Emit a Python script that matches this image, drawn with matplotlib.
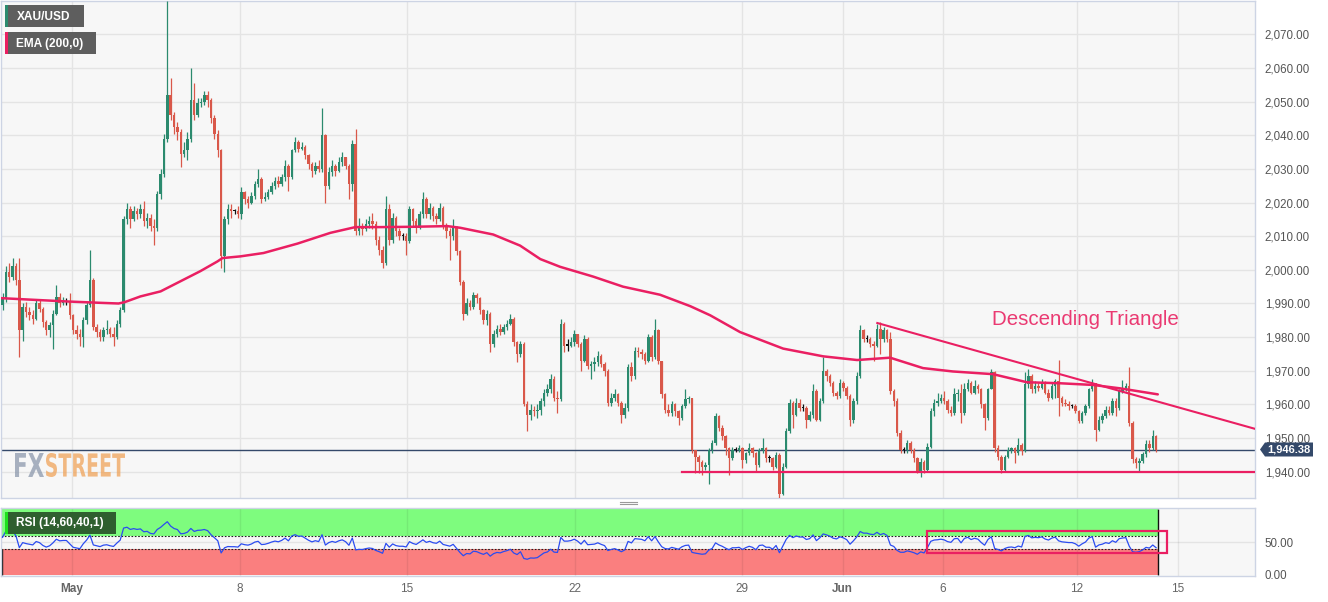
import numpy as np
import matplotlib
matplotlib.use("Agg")
import matplotlib.pyplot as plt
from matplotlib.patches import Rectangle, Polygon, PathPatch
from matplotlib.textpath import TextPath
from matplotlib.font_manager import FontProperties
from matplotlib.transforms import Affine2D

plt.rcParams['font.family'] = ['Liberation Sans', 'DejaVu Sans']

# ---------------- data (XAU/USD candles) ----------------
first_open = 1989.5
closes = [
 1991.5, 1999.5, 1998, 2001, 1997, 1982, 1989, 1987.5, 1986.5, 1985.5,
 1990, 1988.5, 1984.5, 1982, 1983.5, 1987, 1992, 1990, 1990.5, 1990.5,
 1986.5, 1982, 1981, 1980, 1985, 1989.5, 1997, 1983, 1981.5, 1980,
 1982, 1982.5, 1981, 1980, 1984, 1988, 2015, 2018, 2015, 2017.5,
 2016.5, 2018, 2014.5, 2015.5, 2013, 2012.5, 2022.5, 2028.5, 2039, 2052,
 2046, 2042.5, 2041, 2034.5, 2035.5, 2039, 2050.5, 2046, 2049.5, 2050,
 2052, 2050.5, 2045, 2040.5, 2035.5, 2004, 2015, 2018, 2017.5, 2017.5,
 2016.5, 2023, 2021, 2020, 2022, 2025.5, 2027, 2021, 2021.5, 2023,
 2025, 2026.5, 2025.5, 2027.5, 2031, 2027.5, 2035.5, 2038, 2036, 2036.5,
 2034, 2031.5, 2029.5, 2031, 2030, 2040, 2025, 2029, 2031, 2029.5,
 2032, 2033.5, 2031, 2025.5, 2037.5, 2011.5, 2012.5, 2012, 2013.5, 2014.5,
 2013.5, 2009, 2006, 2002, 2018, 2009, 2015.5, 2011.5, 2010, 2010,
 2008.5, 2018, 2014.5, 2012.5, 2016.5, 2021, 2016.5, 2018.5, 2016, 2015,
 2018.5, 2013, 2011.5, 2010, 2012.5, 2005.5, 1996.5, 1987, 1990, 1989,
 1992.5, 1991.5, 1988, 1985, 1987, 1978, 1981, 1982.5, 1981.5, 1983,
 1984, 1985.5, 1978.5, 1975, 1978, 1960, 1957, 1958.5, 1958, 1958.5,
 1961, 1963.5, 1964.5, 1967.5, 1962, 1961.5, 1984, 1977.5, 1977.5, 1978.5,
 1981, 1978, 1973, 1979.5, 1971.5, 1972, 1972.5, 1974.5, 1972, 1970,
 1960.5, 1962, 1963, 1960.5, 1957, 1959, 1971, 1968.5, 1976, 1975.5,
 1975, 1973, 1980, 1974, 1982, 1973, 1963, 1958.5, 1957.5, 1960,
 1958, 1956, 1959.5, 1961.5, 1962, 1946.5, 1944.5, 1943, 1941.5, 1942,
 1946.5, 1948.5, 1956.5, 1953, 1950.5, 1947, 1944, 1946.5, 1946.5, 1947,
 1943.5, 1945.5, 1947, 1945.5, 1942, 1946.5, 1947, 1944, 1944, 1941.5,
 1945, 1933.5, 1941.5, 1952, 1960.5, 1957, 1960.5, 1959, 1959, 1955.5,
 1957, 1964, 1955.5, 1961, 1970, 1968.5, 1966.5, 1963.5, 1962.5, 1966.5,
 1965, 1962.5, 1955.5, 1961, 1968.5, 1982, 1979.5, 1979.5, 1978, 1977.5,
 1982.5, 1979.5, 1982, 1979.5, 1964, 1961, 1951.5, 1946.5, 1946.5, 1948.5,
 1946.5, 1944, 1940, 1943, 1940.5, 1947.5, 1958, 1960.5, 1961, 1962,
 1961, 1958.5, 1957.5, 1963, 1963.5, 1957.5, 1964.5, 1966.5, 1963.5, 1965.5,
 1964.5, 1960, 1956, 1964.5, 1969.5, 1947, 1944.5, 1940.5, 1944.5, 1946.5,
 1947, 1945.5, 1948, 1946.2, 1966, 1968.5, 1964.5, 1965.5, 1965, 1966.7,
 1963.5, 1962, 1965.5, 1967, 1962, 1960.5, 1960, 1959.5, 1959.5, 1958,
 1955, 1957.5, 1959.5, 1964.5, 1966.5, 1952.5, 1955.5, 1956.5, 1958.5, 1957.5,
 1961, 1959, 1964, 1965, 1965.5, 1954.5, 1943.7, 1942.5, 1943.2, 1945.2,
 1948.2, 1947, 1950.7, 1946.38]
highs = [
 1993, 2001, 2002, 2003.5, 2002, 2003.5, 1990, 1990.5, 1989, 1988,
 1991, 1991, 1989, 1985, 1984.5, 1988, 1995.5, 1993, 1992, 1991.5,
 1993, 1987, 1983.5, 1982.5, 1986, 1990.5, 2006, 1997.5, 1984, 1982.5,
 1983, 1985, 1983, 1983, 1985, 1989, 2016, 2020, 2019, 2019,
 2018.5, 2019.5, 2020.5, 2017, 2016.5, 2015, 2023.5, 2030, 2040.5, 2080,
 2057, 2047, 2044, 2042, 2038, 2041, 2060, 2055.5, 2051, 2051,
 2053, 2053, 2051, 2046, 2041.5, 2036, 2016, 2019.5, 2019.5, 2018,
 2019, 2024.5, 2023.5, 2022, 2023, 2026.5, 2030, 2027.5, 2023, 2024,
 2026, 2027.5, 2028, 2028.5, 2032.5, 2031.5, 2036, 2039.5, 2038.5, 2038,
 2037, 2034.5, 2032, 2032, 2032.5, 2048, 2040.5, 2030.5, 2032.5, 2031.5,
 2033.5, 2035, 2033.5, 2031.5, 2038.5, 2042, 2015.5, 2014, 2015, 2016,
 2017, 2014.5, 2010, 2007, 2022, 2019.5, 2017, 2016, 2012.5, 2011,
 2011, 2019, 2018.5, 2015.5, 2017.5, 2023, 2021.5, 2020, 2019, 2017,
 2020, 2019, 2014, 2012.5, 2015, 2013, 2006, 1997, 1991.5, 1991,
 1993.5, 1993, 1992, 1988.5, 1988, 1987.5, 1982, 1983.5, 1984, 1984,
 1985, 1987, 1986, 1979, 1979, 1978.5, 1961, 1960, 1959.5, 1960,
 1962, 1964.5, 1966, 1969, 1968.5, 1964, 1985.5, 1984.5, 1979.5, 1980,
 1982, 1981, 1978.5, 1980.5, 1980, 1973, 1974, 1976, 1975, 1972.5,
 1970.5, 1963.5, 1964.5, 1963.5, 1961, 1960.5, 1972, 1972.5, 1977, 1977,
 1976.5, 1975.5, 1981, 1980.5, 1985.5, 1982.5, 1973, 1963.5, 1960, 1961,
 1960.5, 1958.5, 1960, 1964.5, 1962.5, 1962, 1946.5, 1945, 1943.5, 1943,
 1947, 1949.5, 1957.5, 1957, 1954, 1951, 1947.5, 1947.5, 1947.5, 1948,
 1947.5, 1946, 1948.5, 1947.5, 1946, 1947, 1950, 1947.5, 1945, 1944.5,
 1946, 1945.5, 1942.5, 1953, 1961.5, 1961, 1962, 1961.5, 1960, 1959.5,
 1958, 1966, 1964.5, 1962, 1974, 1970.5, 1969, 1967, 1964, 1967.5,
 1967, 1965.5, 1963, 1962, 1969.5, 1983.5, 1982.5, 1980.5, 1980, 1979,
 1984, 1984.5, 1983, 1982.5, 1981.5, 1964.5, 1962, 1952.5, 1947.5, 1949.5,
 1949, 1947, 1944.5, 1944, 1943.5, 1948.5, 1959, 1961.5, 1963.5, 1963,
 1964, 1961.5, 1959.5, 1965, 1964.5, 1966, 1966.5, 1967.5, 1967, 1967.2,
 1966, 1965, 1960.5, 1965, 1970.5, 1970, 1948, 1945, 1945, 1947.5,
 1947.5, 1947.5, 1950, 1948.5, 1969.5, 1970.5, 1969, 1967, 1966.5, 1967.5,
 1967, 1964.5, 1966.5, 1967.5, 1973.3, 1962.5, 1961.5, 1961, 1960, 1960,
 1958.5, 1958, 1960, 1965, 1967.5, 1966.5, 1956.5, 1957.5, 1959.5, 1959.5,
 1962, 1962, 1964.5, 1967.2, 1966.5, 1971.2, 1955, 1944.5, 1944, 1946,
 1949.4, 1949.4, 1952.5, 1951]
lows = [
 1988, 1990.5, 1996.5, 1997, 1995.5, 1974, 1979, 1986, 1985, 1984,
 1985, 1987.5, 1983, 1980.5, 1980, 1976.5, 1986.5, 1989, 1989.5, 1989.5,
 1985.5, 1981, 1979.5, 1977.5, 1977, 1984, 1989, 1982, 1980, 1979,
 1979, 1981, 1980, 1977.5, 1979.5, 1983, 1987.5, 2013.5, 2012.5, 2014.5,
 2015, 2015.5, 2013, 2012.5, 2011.5, 2007.5, 2011.5, 2021, 2027.5, 2038,
 2044.5, 2040.5, 2038.5, 2030.5, 2033.5, 2032.5, 2038, 2044.5, 2045.5, 2048.5,
 2049, 2048.5, 2043.5, 2039, 2033.5, 2000.5, 1999.5, 2013.5, 2015.5, 2016.5,
 2015.5, 2015, 2019.5, 2018.5, 2019.5, 2021, 2024.5, 2020, 2020.5, 2021,
 2022.5, 2024, 2024.5, 2025, 2026.5, 2023.5, 2027, 2035, 2035, 2035.5,
 2033, 2030, 2027.5, 2028.5, 2029, 2029, 2020, 2024, 2028, 2028,
 2029, 2031, 2030, 2021, 2023.5, 2010.5, 2010.5, 2010.5, 2011.5, 2012.5,
 2012, 2007.5, 2004.5, 2000.5, 2001.5, 2007.5, 2008, 2010, 2009, 2009,
 2004.5, 2008, 2013, 2011, 2012, 2015.5, 2015.5, 2015, 2014.5, 2013.5,
 2014.5, 2012, 2009.5, 2003, 2009, 2004.5, 1995.5, 1985, 1986.5, 1988,
 1988.5, 1990, 1987, 1984, 1983.5, 1975.5, 1977, 1980, 1980.5, 1981,
 1982, 1983.5, 1977.5, 1972.5, 1974, 1959.5, 1952, 1955.5, 1956.5, 1956,
 1957, 1959.5, 1962.5, 1963.5, 1961, 1957.5, 1961, 1975.5, 1976, 1977,
 1977.5, 1977, 1970, 1972.5, 1970.5, 1967.5, 1970, 1971.5, 1971, 1968.5,
 1959.5, 1959.5, 1961, 1959.5, 1954.5, 1956, 1958, 1967, 1967.5, 1974,
 1973.5, 1972, 1972.5, 1973, 1973.5, 1972, 1962, 1957.5, 1956.5, 1956.5,
 1956.5, 1954, 1955.5, 1959, 1960.5, 1945.5, 1939.5, 1939.5, 1939, 1940.5,
 1936.5, 1945.5, 1948, 1952, 1949.5, 1945, 1939, 1943.5, 1946, 1946,
 1941, 1942.5, 1945, 1944.5, 1940, 1941.5, 1945.5, 1943, 1943, 1940.5,
 1941, 1932.2, 1933, 1941, 1951.5, 1953, 1956.5, 1958, 1958, 1953,
 1955, 1956, 1955, 1955, 1960.5, 1967, 1965.5, 1962.5, 1961.5, 1962,
 1964, 1961.5, 1953.5, 1954.5, 1960, 1968, 1978.5, 1978.5, 1977, 1973,
 1977, 1975, 1978.5, 1978.5, 1963, 1959.5, 1950.5, 1945.5, 1945.5, 1945.5,
 1945.5, 1943, 1939.5, 1938.5, 1939.5, 1940, 1947, 1956.5, 1959.5, 1960.5,
 1960, 1957.5, 1956.5, 1957, 1961, 1954.5, 1957, 1964, 1963, 1963,
 1963.5, 1959, 1952.5, 1955.5, 1964.5, 1946, 1943.5, 1939.5, 1940, 1944,
 1945.5, 1942.5, 1945, 1945, 1946, 1965, 1963.5, 1963.5, 1964, 1964.5,
 1963, 1961, 1961.5, 1962, 1956.5, 1959.5, 1959.5, 1958.5, 1959, 1957.5,
 1954.5, 1954.5, 1957, 1959, 1964, 1949.2, 1952, 1954.5, 1956, 1957,
 1957, 1956.5, 1958.5, 1963.5, 1964, 1953.5, 1942.5, 1941, 1940.2, 1942.5,
 1944.5, 1946, 1946.5, 1946]

# EMA(200) (candle index, value)
ema_x = [-0.6, 9.2, 19.3, 29.1, 34.5, 36.3, 41, 47, 52.9, 58.8, 63.9, 65.4, 70.7,
         77.6, 87.7, 97.5, 104.9, 112.3, 122.1, 132.2, 136.1, 145.9, 153.9, 159.9,
         165.8, 175.6, 184.5, 195.5, 204.5, 210.4, 219.3, 232.1, 244, 254.1, 263.9,
         273.7, 282.6, 294.5, 304.6, 314.4, 324.2, 332.2, 343.5]
ema_v = [1991.6, 1991.1, 1990.6, 1990.2, 1990.0, 1990.4, 1992.1, 1993.6, 1996.6,
         1999.6, 2002.5, 2003.5, 2004.0, 2005.0, 2007.8, 2011.0, 2012.7, 2012.7,
         2012.8, 2013.0, 2012.5, 2010.5, 2007.2, 2003.2, 2000.9, 1998.0, 1995.0,
         1992.6, 1989.2, 1986.5, 1981.5, 1976.6, 1974.3, 1973.2, 1973.9, 1970.8,
         1969.8, 1969.0, 1966.6, 1966.3, 1965.8, 1964.8, 1963.0]

# annotations
trend_x = [260.1, 372.6]
trend_y = [1984.2, 1952.7]
support_x = [202.0, 372.6]
support_y = [1940.0, 1940.0]
last_price = 1946.38
rsi_box_x = [274.9, 346.2]
rsi_box_y = [33.3, 66.7]
rsi_seed_gain, rsi_seed_loss = 1.2, 1.0

tick_days = [2, 7, 12, 17, 22, 25, 28, 32, 35]
tick_labels = ['May', '8', '15', '22', '29', 'Jun', '6', '12', '15']
month_labels = {'May', 'Jun'}
price_ticks = list(range(1940, 2071, 10))

# ---------------- styling ----------------
UP = '#2b8a6e'
DN = '#d9584a'
PINK = '#ea1f62'
NAVY = '#34496a'
BG = '#f7f7f7'
GRID = '#e4e4e4'
SPINE = '#cdd4e4'
TXT = '#555555'

W, H = 1328, 602
fig = plt.figure(figsize=(W / 100, H / 100), dpi=100)
fig.patch.set_facecolor('white')

def fy(y):
    return 1 - y / H

ax = fig.add_axes([0.5 / W, fy(497.5), 1254.5 / W, 497 / H])
rax = fig.add_axes([0.5 / W, fy(576), 1254.5 / W, (576 - 507.5) / H])

XMIN, XMAX = -0.6, 372.4
tick_pos = [20.7 + (d - 2) * 9.96 for d in tick_days]

for a in (ax, rax):
    a.set_facecolor(BG)
    a.set_xlim(XMIN, XMAX)
    for s in a.spines.values():
        s.set_color(SPINE)
        s.set_linewidth(1)
    a.yaxis.tick_right()
    a.set_xticks(tick_pos)
    a.tick_params(length=0)

ax.set_ylim(1932.35, 2080.04)
ax.set_yticks(price_ticks)
ax.set_yticklabels([f"{v:,.2f}" for v in price_ticks])
ax.tick_params(axis='y', pad=7, labelsize=8.3, labelcolor=TXT)
ax.tick_params(axis='x', labelbottom=False)
ax.grid(True, color=GRID, lw=1)
ax.set_axisbelow(True)

# candles
c = np.asarray(closes, dtype=float)
h = np.asarray(highs, dtype=float)
l = np.asarray(lows, dtype=float)
o = np.r_[first_open, c[:-1]]
xs = np.arange(len(c))
cols = np.where(c > o, UP, np.where(c < o, DN, '#111111'))
ax.vlines(xs, l, h, colors=cols, lw=0.9, zorder=3)
bot = np.minimum(o, c)
hgt = np.maximum(np.abs(c - o), 0.32)
ax.bar(xs, hgt, bottom=bot, width=0.74, color=cols, linewidth=0, zorder=4)

# EMA, trend lines, price line
ax.plot(ema_x, ema_v, color=PINK, lw=1.8, zorder=5, solid_capstyle='round',
        solid_joinstyle='round')
ax.plot(trend_x, trend_y, color=PINK, lw=1.5, zorder=5)
ax.plot(support_x, support_y, color=PINK, lw=1.6, zorder=5)
ax.axhline(last_price, color=NAVY, lw=1.0, zorder=2)
ax.text(294.1, 1983.6, 'Descending Triangle', color='#ea3a72', fontsize=14.8,
        family='Liberation Sans', va='baseline', ha='left', zorder=6)

# ---------------- RSI ----------------
d = np.diff(np.r_[first_open, c])
gains = np.clip(d, 0, None)
losses = np.clip(-d, 0, None)
ag, al = rsi_seed_gain, rsi_seed_loss
rsi = []
for gi, li in zip(gains, losses):
    ag = (ag * 13 + gi) / 14
    al = (al * 13 + li) / 14
    rsi.append(100 - 100 / (1 + ag / al))
rsi = np.array(rsi)

rax.set_ylim(-1.53, 103.05)
rax.set_yticks([0, 50])
rax.set_yticklabels(['0.00', '50.00'])
rax.tick_params(axis='y', pad=7, labelsize=8.3, labelcolor=TXT)
rax.set_xticklabels(tick_labels)
rax.tick_params(axis='x', pad=5, labelsize=8.5, labelcolor='#666666')
for lab in rax.get_xticklabels():
    if lab.get_text() in month_labels:
        lab.set_fontweight('bold')
rax.axhline(50, color=GRID, lw=1, zorder=0.5)
end_x = xs[-1] + 0.5
rax.add_patch(Rectangle((XMIN, 60), end_x - XMIN, 40, facecolor='#7efc7e', edgecolor='none', zorder=1))
rax.add_patch(Rectangle((XMIN, 0), end_x - XMIN, 40, facecolor='#fa7f7f', edgecolor='none', zorder=1))
for tp in tick_pos:
    rax.axvline(tp, color=(0, 0, 0, 0.07), lw=1, zorder=1.5)
rax.hlines([60, 40], XMIN, end_x, colors='#222222', lw=0.8, linestyles=(0, (1.5, 1.5)), zorder=2)
rax.vlines([end_x], 0, 100, colors='#111111', lw=1, zorder=2)
rax.vlines([XMIN + 0.3], 0, 40, colors='#111111', lw=1, zorder=2)
rax.plot(xs, rsi, color='#2b4cf0', lw=0.9, zorder=3)
rax.add_patch(Rectangle((rsi_box_x[0], rsi_box_y[0]), rsi_box_x[1] - rsi_box_x[0],
                        rsi_box_y[1] - rsi_box_y[0], fill=False, edgecolor=PINK,
                        lw=1.6, zorder=4, clip_on=False))

# ---------------- overlays in pixel space ----------------
def prect(x0, y0, x1, y1, **kw):
    fig.add_artist(Rectangle((x0 / W, fy(y1)), (x1 - x0) / W, (y1 - y0) / H,
                             transform=fig.transFigure, **kw))

def ptext(x, y, s, **kw):
    fig.text(x / W, fy(y), s, **kw)

prect(5, 5, 84, 27, facecolor='#5e5e5e', edgecolor='none')
prect(5, 5, 7.5, 27, facecolor=UP, edgecolor='none')
ptext(16.5, 16.5, 'XAU/USD', color='white', fontsize=8.6, fontweight='bold', va='center', ha='left')
prect(5, 32, 96, 54, facecolor='#5e5e5e', edgecolor='none')
prect(5, 32, 7.5, 54, facecolor=PINK, edgecolor='none')
ptext(16.5, 43.5, 'EMA (200,0)', color='white', fontsize=8.6, fontweight='bold', va='center', ha='left')
prect(5, 511.7, 116, 534, facecolor='#2f5f2f', edgecolor='none')
prect(5, 511.7, 7.5, 534, facecolor='#1ee01e', edgecolor='none')
ptext(16.5, 523.3, 'RSI (14,60,40,1)', color='white', fontsize=8.6, fontweight='bold', va='center', ha='left')

# current price tag
tag = Polygon([(1260 / W, fy(449.5)), (1265 / W, fy(442.5)), (1313 / W, fy(442.5)),
               (1313 / W, fy(456.5)), (1265 / W, fy(456.5))], closed=True,
              transform=fig.transFigure, facecolor=NAVY, edgecolor='none')
fig.add_artist(tag)
ptext(1289.3, 449.8, f"{last_price:,.2f}", color='white', fontsize=8.0, fontweight='bold',
      va='center', ha='center')

# panel handle
for yy in (502, 504):
    fig.add_artist(plt.Line2D([620 / W, 637 / W], [fy(yy), fy(yy)], transform=fig.transFigure,
                              color='#9a9a9a', lw=0.8))

# FXSTREET watermark
fp = FontProperties(family='DejaVu Sans', weight='bold')
def wm(s, x0, x1, ytop, ybot, color):
    tp = TextPath((0, 0), s, size=1, prop=fp)
    ext = tp.get_extents()
    sx = (x1 - x0) / ext.width
    sy = (ybot - ytop) / ext.height
    tr = Affine2D().translate(-ext.x0, -ext.y0).scale(sx, sy).translate(x0, H - ybot)
    path = tr.transform_path(tp)
    fig.add_artist(PathPatch(path, transform=None, facecolor=color, edgecolor='none'))
wm('FX', 15, 44, 453, 477, (0.55, 0.60, 0.68, 0.75))
wm('STREET', 46, 125, 453, 477, (0.94, 0.64, 0.35, 0.75))

fig.savefig('out.png', dpi=100, facecolor='white')
